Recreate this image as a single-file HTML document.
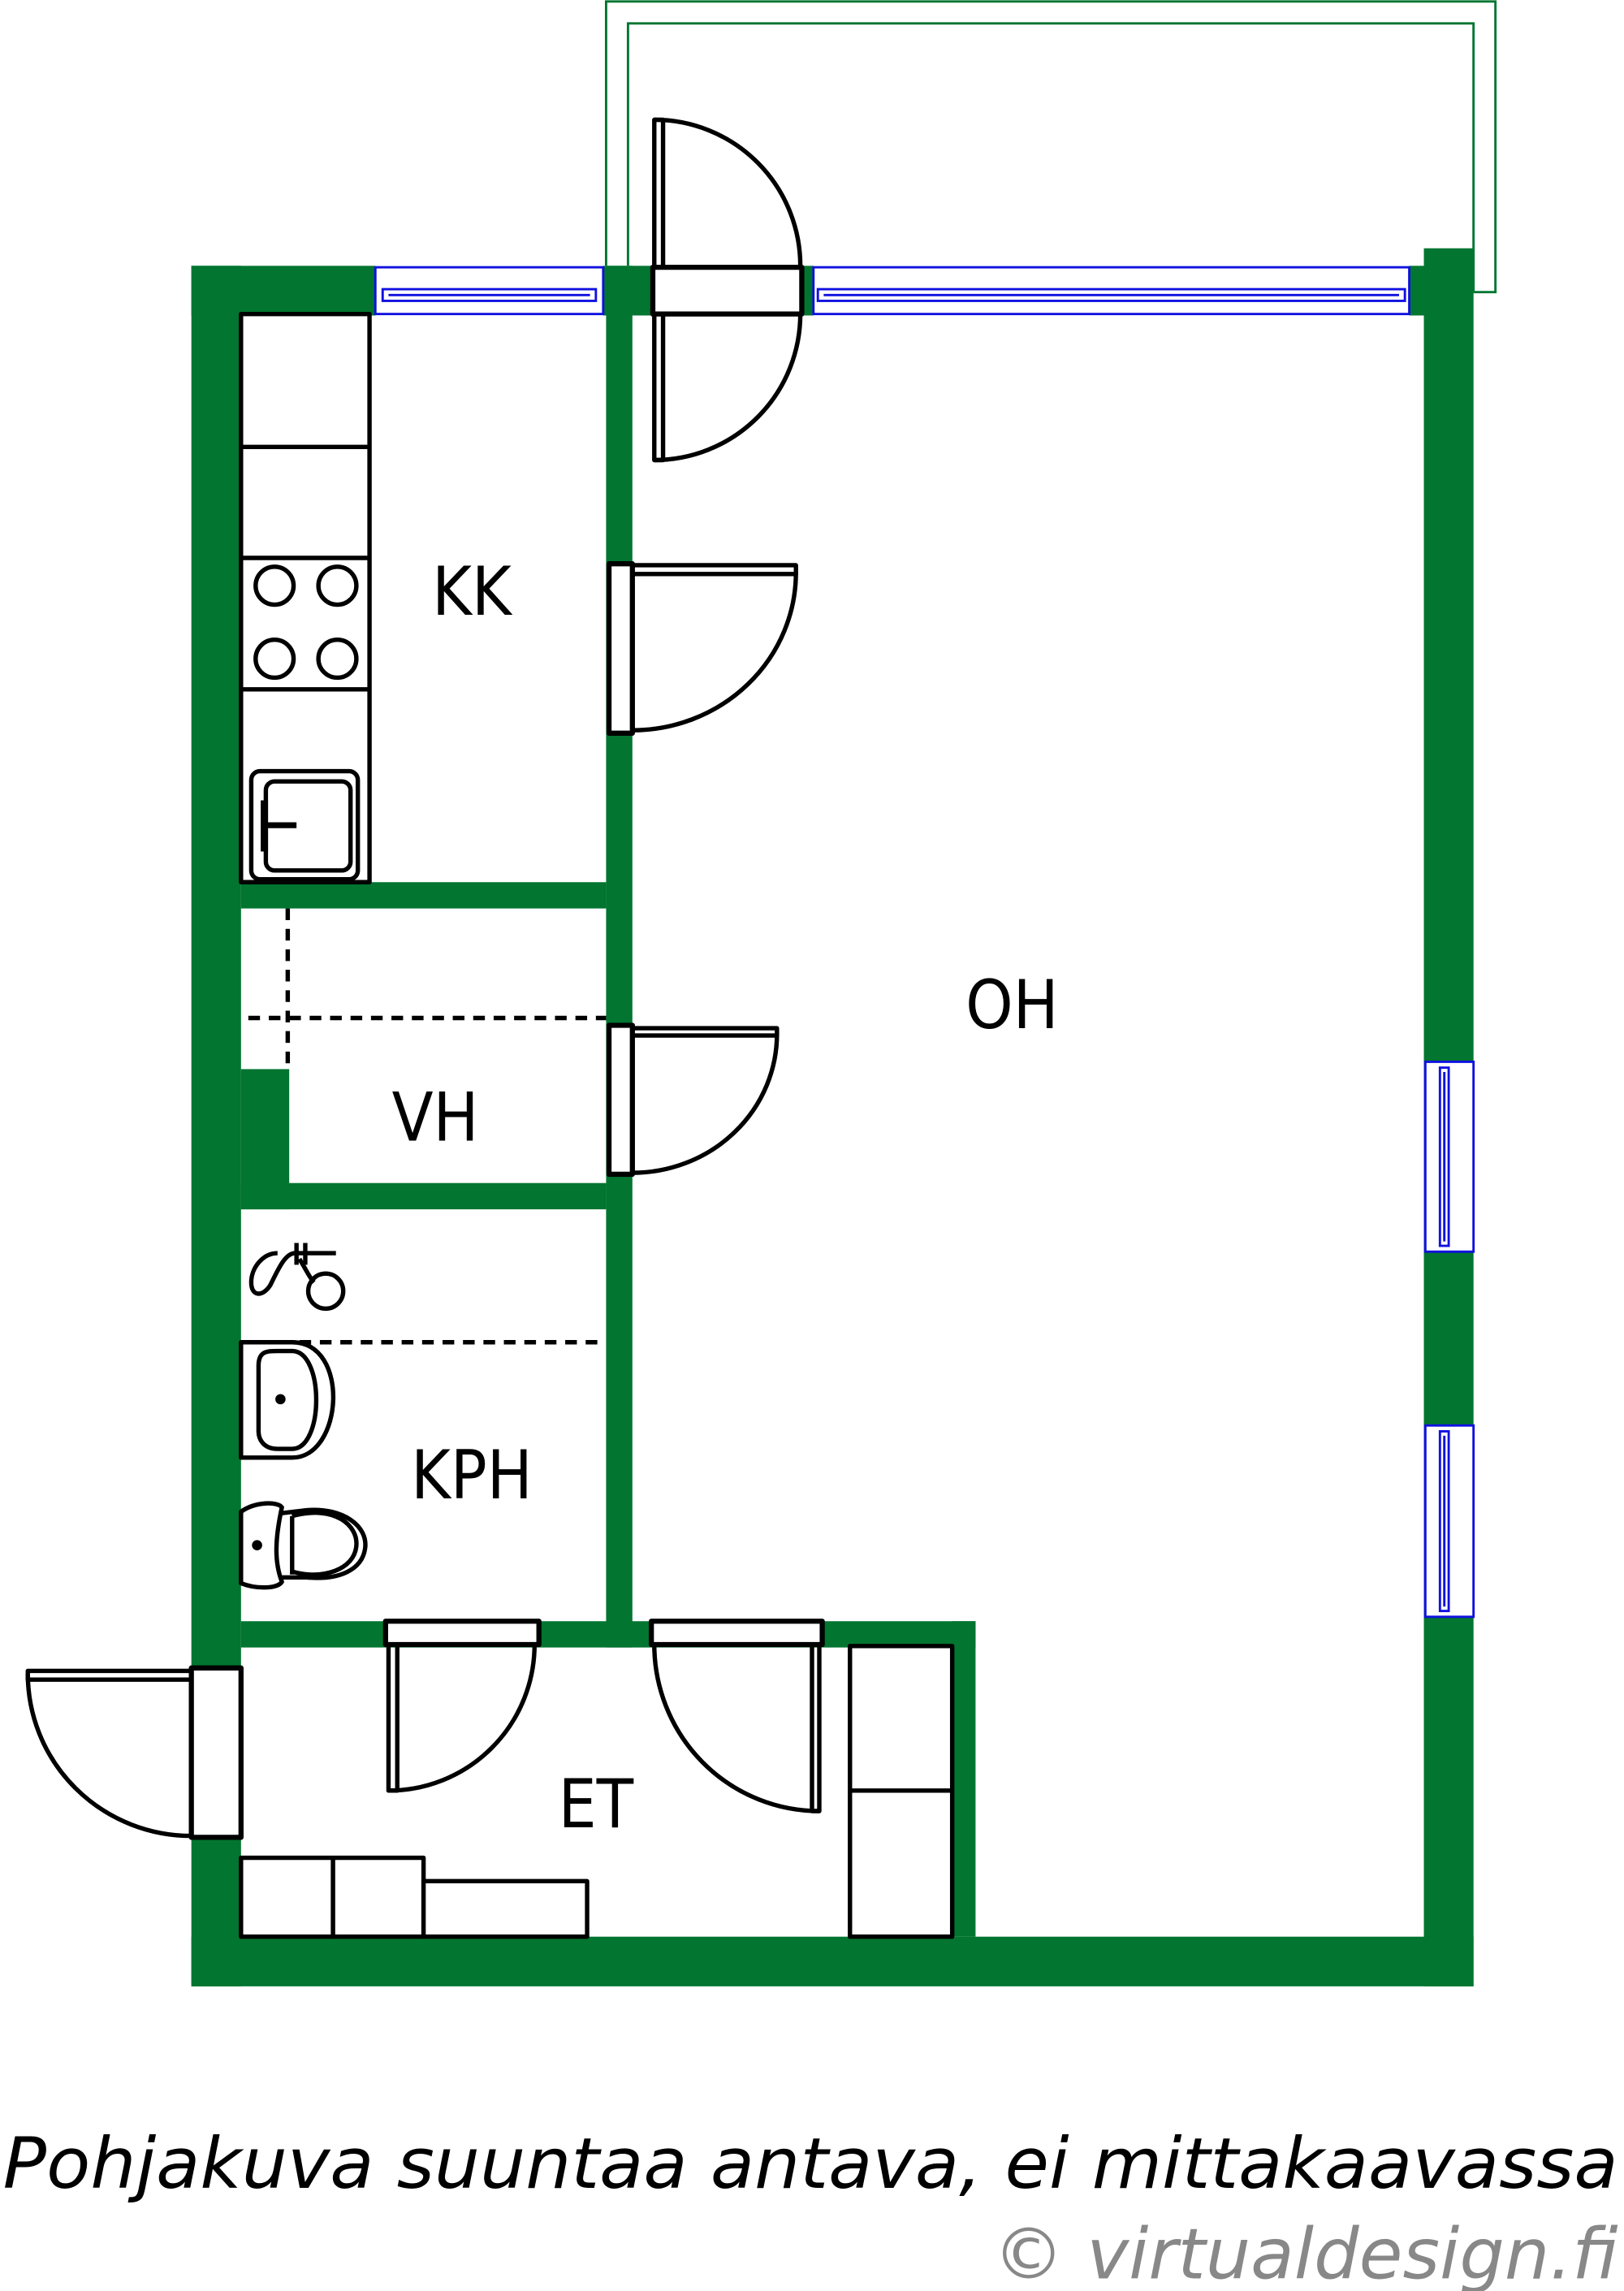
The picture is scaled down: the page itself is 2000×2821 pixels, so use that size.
<!DOCTYPE html>
<html><head><meta charset="utf-8"><style>
html,body{margin:0;padding:0;background:#fff;}
svg{display:block;}
</style></head><body>
<svg xmlns="http://www.w3.org/2000/svg" width="2000" height="2821" viewBox="0 0 1112 1568.6">
<rect width="1112" height="1568.6" fill="#fff"/>
<g fill="none" stroke="#027530" stroke-width="1.6">
<path d="M415,182 V1 H1024 V200 H1009"/>
<path d="M430,182 V16 H1009 V200"/>
</g>
<g fill="#027530">
<rect x="131" y="182" width="126" height="34"/>
<rect x="131" y="182" width="34" height="1178"/>
<rect x="131" y="1326" width="878" height="34"/>
<rect x="975" y="170" width="34" height="1190"/>
<rect x="413" y="182" width="34" height="34"/>
<rect x="547" y="182" width="10" height="34"/>
<rect x="965" y="182" width="12" height="34"/>
<rect x="415" y="182" width="18" height="946"/>
<rect x="165" y="604" width="250" height="18"/>
<rect x="165" y="732" width="33" height="96"/>
<rect x="165" y="810" width="250" height="18"/>
<rect x="165" y="1110" width="503" height="18"/>
<rect x="652" y="1110" width="16" height="216"/>
</g>
<g fill="#fff" stroke="#1010e0" stroke-width="1.6">
<rect x="257" y="183" width="156" height="32"/>
<rect x="262" y="198" width="146" height="8" fill="none"/>
<line x1="266" y1="202" x2="404" y2="202"/>
<rect x="557" y="183" width="408" height="32"/>
<rect x="560" y="198" width="402" height="8" fill="none"/>
<line x1="564" y1="202" x2="958" y2="202"/>
<rect x="976" y="727" width="33" height="130"/>
<rect x="986" y="731" width="6" height="122" fill="none"/>
<line x1="989" y1="734" x2="989" y2="850"/>
<rect x="976" y="976" width="33" height="131"/>
<rect x="986" y="980" width="6" height="123" fill="none"/>
<line x1="989" y1="983" x2="989" y2="1100"/>
</g>
<g fill="none" stroke="#000" stroke-width="3" stroke-linejoin="round">
<rect x="447" y="183" width="102" height="32" fill="#fff" stroke-width="3.5"/>
<path d="M448,183 V82 H454 V183"/>
<path d="M448,82 A100,100 0 0 1 548,183"/>
<path d="M448,215 V315 H454 V215"/>
<path d="M448,315 A100,100 0 0 0 548,215"/>
<rect x="417" y="386" width="16" height="116" fill="#fff" stroke-width="3.5"/>
<path d="M433,387 H545 V393 H433"/>
<path d="M545,392 A112,108 0 0 1 433,500"/>
<rect x="417" y="702" width="16" height="102" fill="#fff" stroke-width="3.5"/>
<path d="M433,704 H532 V709 H433"/>
<path d="M532,708 A99,95 0 0 1 433,803"/>
<rect x="264" y="1110" width="105" height="16" fill="#fff" stroke-width="3.5"/>
<path d="M266,1126 V1226 H272 V1126"/>
<path d="M366,1126 A100,100 0 0 1 266,1226"/>
<rect x="446" y="1110" width="117" height="16" fill="#fff" stroke-width="3.5"/>
<path d="M561,1126 V1240 H556 V1126"/>
<path d="M448,1126 A113,114 0 0 0 561,1240"/>
<rect x="131" y="1142" width="34" height="116" fill="#fff" stroke-width="3.5"/>
<path d="M131,1144 H19 V1150 H131"/>
<path d="M19,1146 A112,111 0 0 0 131,1257"/>
<rect x="165" y="215" width="88" height="389" fill="#fff"/>
<line x1="165" y1="306" x2="253" y2="306"/>
<line x1="165" y1="382" x2="253" y2="382"/>
<line x1="165" y1="472" x2="253" y2="472"/>
<circle cx="188" cy="401" r="13"/><circle cx="231" cy="401" r="13"/>
<circle cx="188" cy="451" r="13"/><circle cx="231" cy="451" r="13"/>
<rect x="172" y="528" width="73" height="74" rx="6"/>
<rect x="182" y="535" width="58" height="61" rx="6"/>
<path d="M182,565 H203" stroke-width="4"/>
<path d="M181,548 V583" stroke-width="5"/>
<path d="M170,697 H415" stroke-dasharray="8,6"/>
<path d="M197,622 V732" stroke-dasharray="8,6"/>
<path d="M205,919 H410" stroke-dasharray="8,6"/>
<path d="M165,919 H200 C240,919 235,998 200,998 H165 Z"/>
<path d="M177,935 C177,925 183,925 190,925 H200 C222,925 222,992 200,992 H190 C180,992 177,985 177,980 Z"/>
<circle cx="192" cy="958" r="2" fill="#000"/>
<path d="M165,1035 C175,1028 190,1028 193,1032 C188,1055 188,1070 193,1083 C190,1088 175,1088 165,1084 Z"/>
<path d="M193,1036 L210,1034 C235,1032 252,1045 250,1060 C248,1075 232,1082 210,1080 L193,1080"/>
<path d="M200,1038 L200,1078 M200,1038 C230,1030 245,1045 244,1058 C243,1075 220,1082 200,1076"/>
<circle cx="176" cy="1058" r="2" fill="#000"/>
<path d="M230,858 H202 C195,858 190,870 185,880 C180,888 172,888 172,878 C172,868 180,858 190,858"/>
<path d="M203,851 V866 M209,851 V866"/>
<path d="M205,862 C210,870 212,875 215,878"/>
<circle cx="223" cy="884" r="12"/>
<rect x="165" y="1272" width="63" height="54" fill="#fff"/>
<rect x="228" y="1272" width="62" height="54" fill="#fff"/>
<rect x="290" y="1288" width="112" height="38" fill="#fff"/>
<rect x="582" y="1127" width="70" height="199" fill="#fff"/>
<line x1="582" y1="1226" x2="652" y2="1226"/>
</g>
<g font-family="'DejaVu Sans Condensed','DejaVu Sans','Liberation Sans',sans-serif" font-size="46" fill="#000" text-anchor="middle">
<text x="323" y="421">KK</text>
<text x="693" y="704">OH</text>
<text x="298" y="781">VH</text>
<text x="323" y="1026">KPH</text>
<text x="408" y="1251">ET</text>
</g>
<text x="2" y="1498" font-family="'DejaVu Sans','Liberation Sans',sans-serif" font-style="italic" font-size="48" fill="#000" textLength="1106" lengthAdjust="spacingAndGlyphs">Pohjakuva suuntaa antava, ei mittakaavassa</text>
<text x="1108" y="1560" text-anchor="end" font-family="'DejaVu Sans','Liberation Sans',sans-serif" font-style="italic" font-size="48" fill="#888" textLength="428" lengthAdjust="spacingAndGlyphs">© virtualdesign.fi</text>
</svg>
</body></html>
